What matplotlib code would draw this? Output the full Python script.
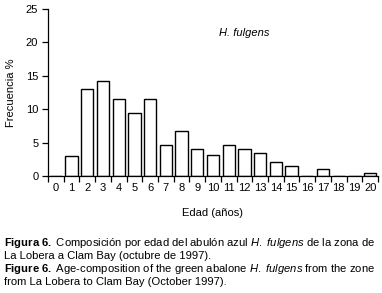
import matplotlib
matplotlib.use("Agg")
import matplotlib.pyplot as plt
import numpy as np

plt.rcParams['font.family'] = ['Liberation Sans', 'DejaVu Sans']
plt.rcParams['mathtext.fontset'] = 'custom'
plt.rcParams['mathtext.rm'] = 'Liberation Sans'
plt.rcParams['mathtext.it'] = 'Liberation Sans:italic'
plt.rcParams['mathtext.bf'] = 'Liberation Sans:bold'

ages = list(range(0, 21))
freq = [0, 3.0, 13.0, 14.2, 11.6, 9.4, 11.6, 4.6, 6.8, 4.0, 3.1,
        4.6, 4.1, 3.5, 2.05, 1.5, 0, 1.0, 0, 0, 0.4]
yticks = [0, 5, 10, 15, 20, 25]

W, H = 382, 293
fig = plt.figure(figsize=(W / 100, H / 100), dpi=100)
ax = fig.add_axes([48 / W, 1 - 176 / H, (378 - 48) / W, (176 - 9) / H])

x = np.arange(len(ages)) + 0.5
ax.bar(x, freq, width=0.78, facecolor='white', edgecolor='black', linewidth=1.0)
ax.set_xlim(0, len(ages))
ax.set_ylim(0, 25)
ax.set_yticks(yticks)
ax.set_xticks(np.arange(len(ages) + 1))
ax.set_xticklabels([])
ax.set_xticks(x, minor=True)
ax.set_xticklabels([str(a) for a in ages], minor=True)
ax.tick_params(axis='x', which='major', direction='out', length=4, width=0.9)
ax.tick_params(axis='x', which='minor', length=0, pad=5, labelsize=8)
ax.tick_params(axis='y', direction='out', length=4, width=0.9, labelsize=8, pad=3)
for s in ['top', 'right']:
    ax.spines[s].set_visible(False)
for s in ['left', 'bottom']:
    ax.spines[s].set_linewidth(0.9)

ax.set_ylabel('Frecuencia %', fontsize=8, labelpad=7)
ax.text(12.5, 21.4, 'H. fulgens', style='italic', fontsize=8, ha='center', va='center')

fig.text(213 / W, 1 - 213 / H, 'Edad (años)', fontsize=8, ha='center', va='center')

cap = [
    r"$\mathbf{Figura\ 6.}$ Composición por edad del abulón azul $\mathit{H.\ fulgens}$ de la zona de",
    "La Lobera a Clam Bay (octubre de 1997).",
    r"$\mathbf{Figure\ 6.}$ Age-composition of the green abalone $\mathit{H.\ fulgens}$ from the zone",
    "from La Lobera to Clam Bay (October 1997).",
]
ys = [243, 256, 269, 282]
for t, yy in zip(cap, ys):
    fig.text(4 / W, 1 - yy / H, t, fontsize=8.15, ha='left', va='center')

fig.savefig('out.png', dpi=100)
